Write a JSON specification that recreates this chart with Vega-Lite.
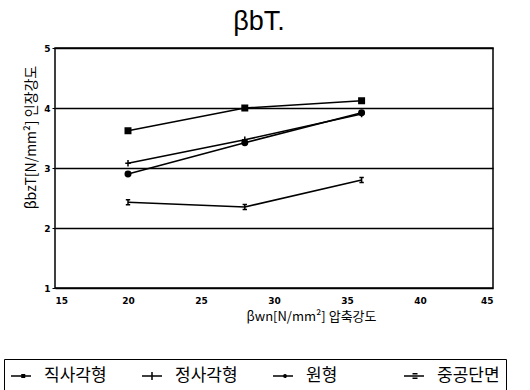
{
  "$schema": "https://vega.github.io/schema/vega-lite/v6.json",
  "width": 438,
  "height": 240,
  "autosize": {"type": "none"},
  "padding": {"left": 55, "top": 48, "right": 37, "bottom": 102},
  "background": "white",
  "title": {"text": "βbT.", "fontSize": 27, "fontWeight": "normal", "font": "Liberation Sans", "color": "black", "offset": 8, "anchor": "middle", "dx": -15},
  "config": {
    "view": {"stroke": "black", "strokeWidth": 1.5},
    "axis": {"labelColor": "black", "titleColor": "black", "labelFont": "DejaVu Sans", "labelFontWeight": "bold", "labelFontSize": 9, "tickColor": "black", "domain": false}
  },
  "data": {"values": [
    {"x": 20, "y": 3.62, "s": "직사각형"},
    {"x": 28, "y": 4.0, "s": "직사각형"},
    {"x": 36, "y": 4.12, "s": "직사각형"},
    {"x": 20, "y": 3.08, "s": "정사각형"},
    {"x": 28, "y": 3.47, "s": "정사각형"},
    {"x": 36, "y": 3.9, "s": "정사각형"},
    {"x": 20, "y": 2.9, "s": "원형"},
    {"x": 28, "y": 3.42, "s": "원형"},
    {"x": 36, "y": 3.92, "s": "원형"},
    {"x": 20, "y": 2.43, "s": "중공단면"},
    {"x": 28, "y": 2.35, "s": "중공단면"},
    {"x": 36, "y": 2.8, "s": "중공단면"}
  ]},
  "encoding": {
    "x": {"field": "x", "type": "quantitative", "scale": {"domain": [15, 45], "nice": false},
      "axis": {"values": [15, 20, 25, 30, 35, 40, 45], "grid": false, "ticks": false, "labelPadding": 8, "title": "βwn[N/mm²] 압축강도", "titleFont": "Noto Sans CJK KR", "titleFontSize": 13, "titleFontWeight": "normal", "titlePadding": 5, "titleX": 256, "titleAlign": "center"}},
    "y": {"field": "y", "type": "quantitative", "scale": {"domain": [1, 5], "nice": false},
      "axis": {"values": [1, 2, 3, 4, 5], "grid": true, "gridColor": "black", "gridWidth": 1.5, "gridOpacity": 1, "ticks": true, "tickSize": 3, "labelPadding": 2, "title": "βbzT[N/mm²] 인장강도", "titleFont": "Noto Sans CJK KR", "titleFontSize": 14, "titleFontWeight": "normal", "titleX": -17, "titleY": 89, "titleAngle": -90, "titleAlign": "center", "titleBaseline": "bottom"}}
  },
  "resolve": {"scale": {"shape": "independent"}},
  "layer": [
    {"mark": {"type": "line", "color": "black", "strokeWidth": 1.6}, "encoding": {"detail": {"field": "s"}}},
    {"mark": {"type": "point", "filled": true, "color": "black", "stroke": "black", "strokeWidth": 1.5, "size": 30, "opacity": 1},
      "encoding": {"shape": {"field": "s", "type": "nominal",
        "scale": {"domain": ["직사각형", "정사각형", "원형", "중공단면"], "range": ["square", "M-1,0H1M0,-1.2V1.2", "circle", "M-0.8,-0.9H0.8M-0.8,0.9H0.8M0,-0.9V0.9"]},
        "legend": null}}},
    {"transform": [{"filter": "datum.x < 0"}],
      "mark": {"type": "point", "filled": false, "fill": "black", "stroke": "black", "strokeWidth": 1.5, "size": 400, "opacity": 1},
      "encoding": {"shape": {"field": "s", "type": "nominal",
        "scale": {"domain": ["직사각형", "정사각형", "원형", "중공단면"], "range": ["M-1,0H1M0.1,-0.12H0.35V0.12H0.1Z", "M-1,0H1M0,-0.4V0.4", "M-1,0H1M0.32,0A0.12,0.12,0,1,1,0.08,0A0.12,0.12,0,1,1,0.32,0Z", "M-1,0H1M-0.15,-0.22H0.35M-0.15,0.22H0.35"]},
        "legend": {"title": null, "orient": "none", "legendX": -51, "legendY": 311, "direction": "horizontal", "columns": 4, "gridAlign": "all", "columnPadding": 32, "strokeColor": "black", "padding": 6, "labelFont": "Noto Sans CJK KR", "labelFontSize": 17, "labelColor": "black", "labelOffset": 12, "symbolSize": 400, "symbolStrokeWidth": 1.5, "labelLimit": 200}}}}
  ]
}
